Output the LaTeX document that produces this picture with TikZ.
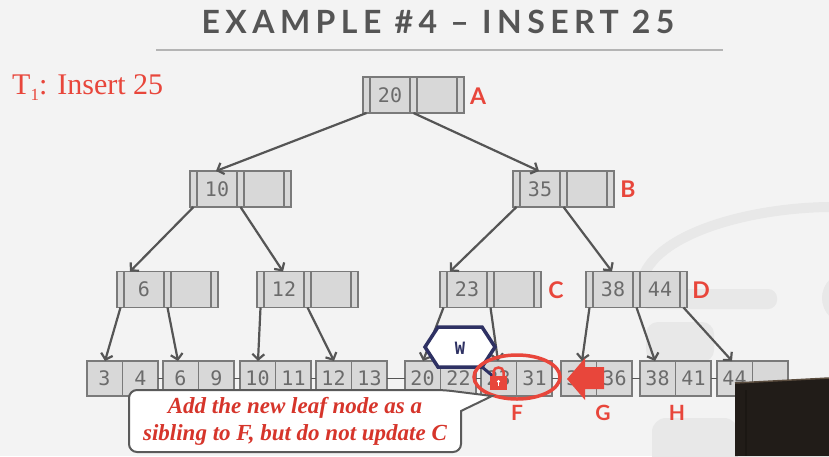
\documentclass[tikz,border=0pt]{standalone}
\usepackage{fontspec}
\setmainfont{Liberation Serif}
\newfontfamily\titlefont[LetterSpace=17]{Lato}
\newfontfamily\labelfont{Lato}
\newfontfamily\keyfont{DejaVu Sans Mono}
\usetikzlibrary{arrows.meta}

\definecolor{bg}{HTML}{F3F3F3}
\definecolor{cellfill}{HTML}{D8D8D8}
\definecolor{cellline}{HTML}{7A7A7A}
\definecolor{keygray}{HTML}{6B6B6B}
\definecolor{linkgray}{HTML}{555555}
\definecolor{slidered}{HTML}{E8463B}
\definecolor{notered}{HTML}{D6352B}
\definecolor{latchblue}{HTML}{2E3163}
\definecolor{logogray}{HTML}{E8E8E8}
\definecolor{titlegray}{HTML}{555555}
\definecolor{rulegray}{HTML}{B4B4B4}
\definecolor{calloutline}{HTML}{5A5A5A}
\definecolor{presenter}{HTML}{211C18}
\definecolor{presenteredge}{HTML}{5A4C3E}

\tikzset{
  innerbox/.style={draw=cellline, fill=cellfill, line width=1.1pt,
    minimum width=101pt, minimum height=36pt, inner sep=0pt, outer sep=0pt},
  leafbox/.style={draw=cellline, fill=cellfill, line width=1.1pt,
    minimum width=71pt, minimum height=35pt, inner sep=0pt, outer sep=0pt},
  keytext/.style={text=keygray, font=\keyfont\fontsize{20}{20}\selectfont, inner sep=0pt},
  divider/.style={draw=cellline, line width=1.1pt},
  ptr/.style={draw=linkgray, line width=2.2pt, -{Straight Barb[length=5.5pt,width=12pt]}},
  leaflink/.style={draw=linkgray, line width=1.6pt},
  nodelabel/.style={text=slidered, font=\labelfont\bfseries\fontsize{23}{23}\selectfont, inner sep=0pt},
  leaflabel/.style={text=slidered, font=\labelfont\bfseries\fontsize{21}{21}\selectfont, inner sep=0pt},
  callout/.style={draw=calloutline, fill=white, line width=2pt},
  notetext/.style={text=notered, align=center, inner sep=0pt,
    font=\bfseries\itshape\fontsize{23}{27}\selectfont},
}

% inner node: name, left x, centre y, key 1, key 2
\newcommand\innernode[5]{%
  \node[innerbox] (#1) at (#2+50.5,#3) {};
  \draw[divider] ([xshift=7pt]#1.north west) -- ([xshift=7pt]#1.south west);
  \draw[divider] ([xshift=47pt]#1.north west) -- ([xshift=47pt]#1.south west);
  \draw[divider] ([xshift=54pt]#1.north west) -- ([xshift=54pt]#1.south west);
  \draw[divider] ([xshift=94pt]#1.north west) -- ([xshift=94pt]#1.south west);
  \node[keytext] (#1-k1) at ([xshift=27pt]#1.west) {#4};
  \node[keytext] (#1-k2) at ([xshift=74pt]#1.west) {#5};
  \coordinate (#1-p0) at ([xshift=3.5pt]#1.south west);
  \coordinate (#1-p1) at ([xshift=50.5pt]#1.south west);
  \coordinate (#1-p2) at ([xshift=97.5pt]#1.south west);
  \coordinate (#1-in) at ([xshift=26pt]#1.north west);
}

% leaf node: name, left x, key 1, key 2
\newcommand\leafnode[4]{%
  \node[leafbox] (#1) at (#2+35.5,378.5) {};
  \draw[divider] (#1.north) -- (#1.south);
  \node[keytext] (#1-k1) at ([xshift=17.5pt]#1.west) {#3};
  \node[keytext] (#1-k2) at ([xshift=53.5pt]#1.west) {#4};
  \coordinate (#1-in) at ([xshift=18pt]#1.north west);
}

\begin{document}
\begin{tikzpicture}[x=1pt,y=-1pt]
  \useasboundingbox (0,0) rectangle (829,456);
  \fill[bg] (0,0) rectangle (829,456);

  % faint logo in the background
  \draw[logogray, line width=10pt, line cap=round]
    (641,300) .. controls (630,240) and (740,208) .. (829,207);
  \fill[logogray, rounded corners=9pt] (640,289) rectangle (777,309);
  \fill[logogray] (848,298) circle (26);
  \fill[logogray, rounded corners=12pt] (646,322) rectangle (714,362);
  \fill[logogray, rounded corners=14pt] (652,418) -- (738,418) -- (738,470) -- (652,470) -- cycle;

  % title
  \node[text=titlegray, font=\titlefont\bfseries\fontsize{32}{32}\selectfont, inner sep=0pt]
    (title) at (438,22) {EXAMPLE \#4 – INSERT 25};
  \draw[rulegray, line width=1.5pt] (156,50) -- (723,50);

  % transaction
  \node[text=slidered, anchor=base west, inner sep=0pt,
        font=\fontsize{30}{30}\selectfont] (txn) at (12,94)
    {T\raisebox{-6pt}{\fontsize{17}{17}\selectfont 1}: Insert 25};

  % inner nodes
  \innernode{A}{363}{95}{20}{}
  \innernode{n10}{190}{189}{10}{}
  \innernode{B}{513}{189}{35}{}
  \innernode{n6}{117}{289.5}{6}{}
  \innernode{n12}{257}{289.5}{12}{}
  \innernode{C}{440}{289.5}{23}{}
  \innernode{D}{586}{289.5}{38}{44}

  \node[nodelabel] (labA) at (478,96) {A};
  \node[nodelabel] (labB) at (628,189) {B};
  \node[nodelabel] (labC) at (556,290) {C};
  \node[nodelabel] (labD) at (701,290) {D};

  % leaf nodes
  \leafnode{l1}{87}{3}{4}
  \leafnode{l2}{163}{6}{9}
  \leafnode{l3}{240}{10}{11}
  \leafnode{l4}{316}{12}{13}
  \leafnode{l5}{405}{20}{22}
  \leafnode{F}{481}{23}{31}
  \leafnode{G}{561}{35}{36}
  \leafnode{H}{640}{38}{41}
  \leafnode{l9}{717}{44}{}

  % sibling links between leaves
  \draw[leaflink] (l1.east) -- (l2.west);
  \draw[leaflink] (l2.east) -- (l3.west);
  \draw[leaflink] (l3.east) -- (l4.west);
  \draw[leaflink] (l4.east) -- (l5.west);
  \draw[leaflink] (l5.east) -- (F.west);
  \draw[leaflink] (F.east) -- (G.west);
  \draw[leaflink] (G.east) -- (H.west);
  \draw[leaflink] (H.east) -- (l9.west);

  % child pointers
  \draw[ptr] (A-p0) -- (n10-in);
  \draw[ptr] (A-p1) -- (B-in);
  \draw[ptr] (n10-p0) -- ([xshift=13pt]n6.north west);
  \draw[ptr] (n10-p1) -- (n12-in);
  \draw[ptr] (B-p0) -- ([xshift=10pt]C.north west);
  \draw[ptr] (B-p1) -- (D-in);
  \draw[ptr] (n6-p0) -- (l1-in);
  \draw[ptr] (n6-p1) -- ([xshift=15pt]l2.north west);
  \draw[ptr] (n12-p0) -- (l3-in);
  \draw[ptr] (n12-p1) -- (l4-in);
  \draw[ptr] (C-p0) -- (l5-in);
  \draw[ptr] (C-p1) -- ([xshift=17pt]F.north west);
  \draw[ptr] (D-p0) -- ([xshift=21pt]G.north west);
  \draw[ptr] (D-p1) -- ([xshift=15pt]H.north west);
  \draw[ptr] (D-p2) -- ([xshift=15pt]l9.north west);

  \node[leaflabel] (labF) at (517,413) {F};
  \node[leaflabel] (labG) at (603,413) {G};
  \node[leaflabel] (labH) at (677,413) {H};

  % write latch held on leaf F
  \draw[latchblue, line width=3pt] (482,367) -- (494,377);
  \draw[latchblue, line width=3.5pt, fill=white, line join=miter]
    (425,347) -- (438,327) -- (482,327) -- (495,347) -- (482,367) -- (438,367) -- cycle;
  \node[text=latchblue, font=\keyfont\bfseries\fontsize{17}{17}\selectfont, inner sep=0pt]
    (latch) at (460,348) {W};

  % padlock and highlight around F
  \draw[slidered, line width=3.5pt] (517,377) ellipse [x radius=43pt, y radius=22pt];
  \draw[slidered, line width=2.5pt]
    (493.5,377) -- (493.5,372) .. controls (493.5,366) and (503.5,366) .. (503.5,372) -- (503.5,377);
  \fill[slidered] (490,376) rectangle (507,390);
  \fill[white] (498.5,381.5) circle (1.6);
  \fill[white] (497.9,381.5) rectangle (499.1,385.5);

  % block arrow pointing at the new leaf
  \fill[slidered] (567,379) -- (585,358) -- (585,367) -- (604,367)
    -- (604,389) -- (585,389) -- (585,400) -- cycle;

  % callout
  \draw[callout, rounded corners=8pt]
    (300,390) -- (444,390) [sharp corners] -- (492,396) -- (461,411)
    [rounded corners=8pt] -- (461,452) -- (129,452) -- (129,390) -- cycle;
  \node[notetext] (note) at (295,421)
    {Add the new leaf node as a\\sibling to F, but do not update C};

  % presenter inset in the corner
  \fill[presenter] (735,383) -- (829,378) -- (829,456) -- (735,456) -- cycle;
  \draw[presenteredge, line width=1.5pt] (735,383) -- (829,378);
  \draw[black!70!presenteredge, line width=2pt] (746,390) -- (746,456);
\end{tikzpicture}
\end{document}
